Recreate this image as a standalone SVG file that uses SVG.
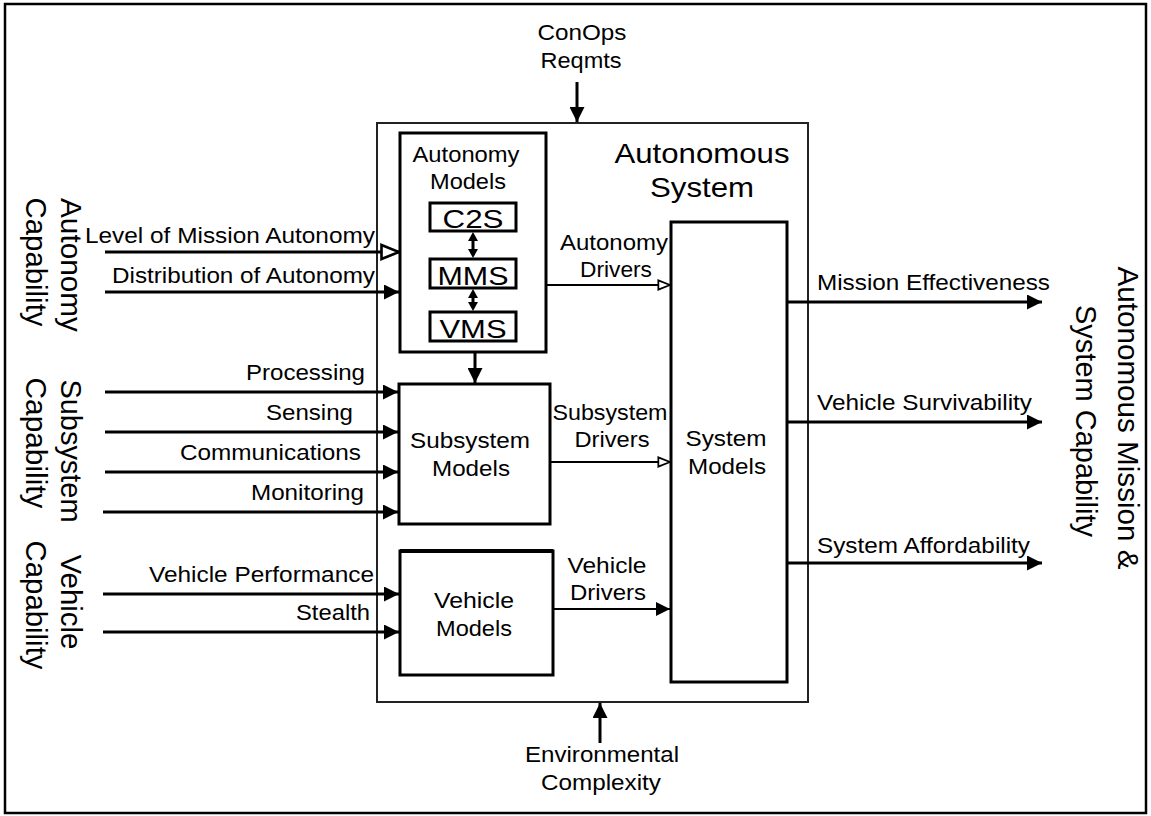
<svg xmlns="http://www.w3.org/2000/svg" width="1151" height="816" viewBox="0 0 1151 816">
<style>
text{font-family:"Liberation Sans",Arial,sans-serif;fill:#000}
.lb{font-size:22px}
.big{font-size:26px}
.vt{font-size:29px}
.box{fill:#fff;stroke:#000;stroke-width:3}
.main{fill:none;stroke:#222;stroke-width:2}
.ln{stroke:#000;stroke-width:3;fill:none}
.ln2{stroke:#000;stroke-width:2;fill:none}
.head{fill:#000}
.mid{text-anchor:middle}
.end{text-anchor:end}
</style>
<defs>
<marker id="af" viewBox="0 0 10 10" refX="10" refY="5" markerWidth="5" markerHeight="5" orient="auto" markerUnits="strokeWidth"><path d="M0,0 L10,5 L0,10 z" fill="#000"/></marker>
<marker id="afs" viewBox="0 0 10 10" refX="10" refY="5" markerWidth="7" markerHeight="7" orient="auto" markerUnits="strokeWidth"><path d="M0,0 L10,5 L0,10 z" fill="#000"/></marker>
<marker id="ao" viewBox="0 0 12 10" refX="11" refY="5" markerWidth="7" markerHeight="6" orient="auto" markerUnits="strokeWidth"><path d="M1,1 L11,5 L1,9 z" fill="#fff" stroke="#000" stroke-width="1.5"/></marker>
</defs>
<rect x="0" y="0" width="1151" height="816" fill="#fff"/>
<rect x="5" y="4" width="1141" height="809" fill="none" stroke="#000" stroke-width="2.5"/>

<g id="autonomous-system">
<rect class="main" x="377" y="123" width="431" height="579"/>
<text x="702" y="163" font-size="28" class="mid" textLength="175" lengthAdjust="spacingAndGlyphs">Autonomous</text>
<text x="702" y="197" font-size="28" class="mid" textLength="104" lengthAdjust="spacingAndGlyphs">System</text>
</g>

<g id="autonomy-models">
<rect class="box" x="400" y="133" width="146" height="219"/>
<text x="466" y="162" class="lb mid" textLength="107" lengthAdjust="spacingAndGlyphs">Autonomy</text>
<text x="468" y="189" class="lb mid" textLength="76" lengthAdjust="spacingAndGlyphs">Models</text>
</g>
<g id="c2s"><rect class="box" x="430" y="203" width="86" height="28"/><text x="473" y="228" class="big mid" textLength="61" lengthAdjust="spacingAndGlyphs">C2S</text></g>
<g id="mms"><rect class="box" x="430" y="259" width="86" height="29"/><text x="473" y="285" class="big mid" textLength="71" lengthAdjust="spacingAndGlyphs">MMS</text></g>
<g id="vms"><rect class="box" x="430" y="312" width="86" height="29"/><text x="473" y="338" class="big mid" textLength="67" lengthAdjust="spacingAndGlyphs">VMS</text></g>

<g id="subsystem-models">
<rect class="box" x="399" y="384" width="151" height="140"/>
<text x="470" y="448" class="lb mid" textLength="120" lengthAdjust="spacingAndGlyphs">Subsystem</text>
<text x="471" y="476" class="lb mid" textLength="78" lengthAdjust="spacingAndGlyphs">Models</text>
</g>

<g id="vehicle-models">
<rect class="box" x="400" y="551" width="153" height="124"/>
<line x1="400" y1="551" x2="553" y2="551" stroke="#000" stroke-width="4"/>
<text x="474" y="608" class="lb mid" textLength="80" lengthAdjust="spacingAndGlyphs">Vehicle</text>
<text x="474" y="636" class="lb mid" textLength="76" lengthAdjust="spacingAndGlyphs">Models</text>
</g>

<g id="system-models">
<rect class="box" x="671" y="222" width="116" height="460"/>
<text x="726" y="446" class="lb mid" textLength="81" lengthAdjust="spacingAndGlyphs">System</text>
<text x="727" y="474" class="lb mid" textLength="78" lengthAdjust="spacingAndGlyphs">Models</text>
</g>

<g id="left-groups">
<g transform="translate(61,265) rotate(90)"><text class="vt mid" textLength="134" lengthAdjust="spacingAndGlyphs">Autonomy</text></g>
<g transform="translate(26,262) rotate(90)"><text class="vt mid" textLength="129" lengthAdjust="spacingAndGlyphs">Capability</text></g>
<g transform="translate(61,451) rotate(90)"><text class="vt mid" textLength="143" lengthAdjust="spacingAndGlyphs">Subsystem</text></g>
<g transform="translate(26,443) rotate(90)"><text class="vt mid" textLength="131" lengthAdjust="spacingAndGlyphs">Capability</text></g>
<g transform="translate(61,602) rotate(90)"><text class="vt mid" textLength="95" lengthAdjust="spacingAndGlyphs">Vehicle</text></g>
<g transform="translate(26,605) rotate(90)"><text class="vt mid" textLength="129" lengthAdjust="spacingAndGlyphs">Capability</text></g>
</g>
<g id="right-group">
<g transform="translate(1118,418) rotate(90)"><text class="vt mid" textLength="303" lengthAdjust="spacingAndGlyphs">Autonomous Mission &amp;</text></g>
<g transform="translate(1076,421) rotate(90)"><text class="vt mid" textLength="232" lengthAdjust="spacingAndGlyphs">System Capability</text></g>
</g>

<g id="connectors">
<line class="ln" x1="105" y1="252" x2="399" y2="252" marker-end="url(#ao)"/>
<line class="ln" x1="105" y1="292" x2="399" y2="292" marker-end="url(#af)"/>
<line class="ln" x1="105" y1="392" x2="398" y2="392" marker-end="url(#af)"/>
<line class="ln" x1="105" y1="432" x2="398" y2="432" marker-end="url(#af)"/>
<line class="ln" x1="105" y1="472" x2="398" y2="472" marker-end="url(#af)"/>
<line class="ln" x1="103" y1="512" x2="398" y2="512" marker-end="url(#af)"/>
<line class="ln" x1="103" y1="594" x2="399" y2="594" marker-end="url(#af)"/>
<line class="ln" x1="103" y1="632" x2="399" y2="632" marker-end="url(#af)"/>
<line class="ln2" x1="546" y1="285" x2="670" y2="285" marker-end="url(#ao)"/>
<line class="ln2" x1="550" y1="462" x2="670" y2="462" marker-end="url(#ao)"/>
<line class="ln2" x1="553" y1="609" x2="670" y2="609" marker-end="url(#afs)"/>
<line class="ln" x1="788" y1="302" x2="1042" y2="302" marker-end="url(#af)"/>
<line class="ln" x1="788" y1="422" x2="1042" y2="422" marker-end="url(#af)"/>
<line class="ln" x1="788" y1="563" x2="1042" y2="563" marker-end="url(#af)"/>
<line class="ln" x1="577" y1="82" x2="577" y2="122" marker-end="url(#af)"/>
<line class="ln" x1="600" y1="743" x2="600" y2="703" marker-end="url(#af)"/>
<line class="ln" x1="475" y1="352" x2="475" y2="383" marker-end="url(#af)"/>
<line class="ln" x1="473" y1="238" x2="473" y2="252"/>
<path class="head" d="M473,232 L478,241 L468,241 z"/>
<path class="head" d="M473,258 L478,249 L468,249 z"/>
<line class="ln" x1="473" y1="295" x2="473" y2="305"/>
<path class="head" d="M473,289 L478,298 L468,298 z"/>
<path class="head" d="M473,311 L478,302 L468,302 z"/>
</g>

<g id="labels">
<text x="375" y="243" class="lb end" textLength="290" lengthAdjust="spacingAndGlyphs">Level of Mission Autonomy</text>
<text x="375" y="283" class="lb end" textLength="263" lengthAdjust="spacingAndGlyphs">Distribution of Autonomy</text>
<text x="365" y="380" class="lb end" textLength="119" lengthAdjust="spacingAndGlyphs">Processing</text>
<text x="353" y="420" class="lb end" textLength="87" lengthAdjust="spacingAndGlyphs">Sensing</text>
<text x="361" y="460" class="lb end" textLength="181" lengthAdjust="spacingAndGlyphs">Communications</text>
<text x="364" y="500" class="lb end" textLength="113" lengthAdjust="spacingAndGlyphs">Monitoring</text>
<text x="374" y="582" class="lb end" textLength="225" lengthAdjust="spacingAndGlyphs">Vehicle Performance</text>
<text x="370" y="620" class="lb end" textLength="74" lengthAdjust="spacingAndGlyphs">Stealth</text>
<text x="614" y="250" class="lb mid" textLength="108" lengthAdjust="spacingAndGlyphs">Autonomy</text>
<text x="616" y="277" class="lb mid" textLength="72" lengthAdjust="spacingAndGlyphs">Drivers</text>
<text x="610" y="420" class="lb mid" textLength="115" lengthAdjust="spacingAndGlyphs">Subsystem</text>
<text x="612" y="447" class="lb mid" textLength="75" lengthAdjust="spacingAndGlyphs">Drivers</text>
<text x="607" y="573" class="lb mid" textLength="79" lengthAdjust="spacingAndGlyphs">Vehicle</text>
<text x="608" y="600" class="lb mid" textLength="76" lengthAdjust="spacingAndGlyphs">Drivers</text>
<text x="817" y="290" class="lb" textLength="233" lengthAdjust="spacingAndGlyphs">Mission Effectiveness</text>
<text x="817" y="410" class="lb" textLength="215" lengthAdjust="spacingAndGlyphs">Vehicle Survivability</text>
<text x="817" y="553" class="lb" textLength="213" lengthAdjust="spacingAndGlyphs">System Affordability</text>
<text x="582" y="40" class="lb mid" textLength="89" lengthAdjust="spacingAndGlyphs">ConOps</text>
<text x="581" y="68" class="lb mid" textLength="81" lengthAdjust="spacingAndGlyphs">Reqmts</text>
<text x="602" y="762" class="lb mid" textLength="154" lengthAdjust="spacingAndGlyphs">Environmental</text>
<text x="601" y="790" class="lb mid" textLength="120" lengthAdjust="spacingAndGlyphs">Complexity</text>
</g>
</svg>
